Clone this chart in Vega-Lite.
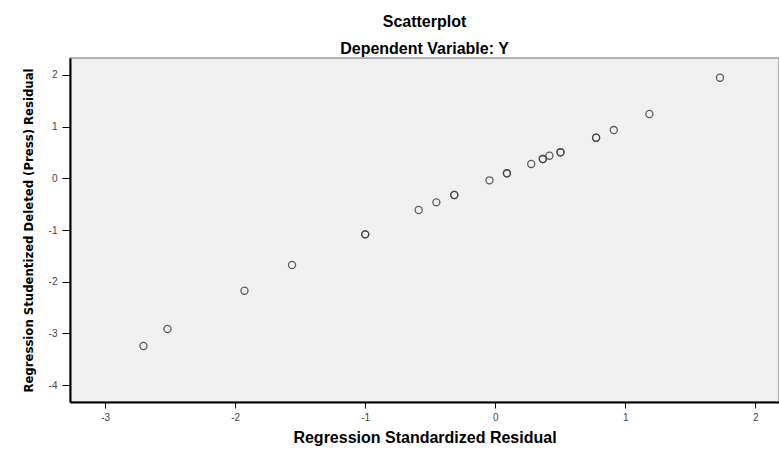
{
  "$schema": "https://vega.github.io/schema/vega-lite/v6.json",
  "width": 709,
  "height": 344,
  "autosize": {"type": "none"},
  "padding": {"left": 70, "top": 58, "right": 0, "bottom": 50},
  "background": "white",
  "title": {
    "text": ["Scatterplot", "Dependent Variable: Y"],
    "font": "Liberation Sans",
    "fontSize": 16,
    "fontWeight": "bold",
    "lineHeight": 27,
    "anchor": "middle",
    "offset": 1,
    "color": "#000"
  },
  "config": {
    "view": {"fill": "#f0f0f0", "stroke": "#999", "strokeWidth": 1.5},
    "axis": {
      "grid": false,
      "domainColor": "#000",
      "domainWidth": 1.5,
      "tickColor": "#000",
      "tickWidth": 1,
      "tickSize": 5,
      "labelFont": "Liberation Sans",
      "labelFontSize": 10,
      "labelColor": "#444",
      "labelExpr": "(datum.value < 0 ? '-' : '') + abs(datum.value)",
      "titleFont": "Liberation Sans",
      "titleFontWeight": "bold",
      "titleColor": "#000"
    }
  },
  "data": {
    "values": [
      {"x": -2.706, "y": -3.244},
      {"x": -2.521, "y": -2.915},
      {"x": -1.929, "y": -2.174},
      {"x": -1.563, "y": -1.677},
      {"x": -1.0, "y": -1.084},
      {"x": -1.0, "y": -1.084},
      {"x": -0.589, "y": -0.613},
      {"x": -0.453, "y": -0.465},
      {"x": -0.315, "y": -0.323},
      {"x": -0.315, "y": -0.323},
      {"x": -0.044, "y": -0.039},
      {"x": 0.09, "y": 0.097},
      {"x": 0.09, "y": 0.097},
      {"x": 0.277, "y": 0.277},
      {"x": 0.366, "y": 0.373},
      {"x": 0.366, "y": 0.373},
      {"x": 0.417, "y": 0.437},
      {"x": 0.502, "y": 0.503},
      {"x": 0.502, "y": 0.503},
      {"x": 0.776, "y": 0.786},
      {"x": 0.776, "y": 0.786},
      {"x": 0.912, "y": 0.934},
      {"x": 1.186, "y": 1.244},
      {"x": 1.729, "y": 1.946}
    ]
  },
  "mark": {"type": "point", "shape": "circle", "filled": false, "size": 50, "stroke": "#444", "strokeWidth": 1.3, "opacity": 0.85},
  "encoding": {
    "x": {
      "field": "x",
      "type": "quantitative",
      "scale": {"domain": [-3.271, 2.183], "nice": false, "zero": false},
      "axis": {"values": [-3, -2, -1, 0, 1, 2], "title": "Regression Standardized Residual", "titleFontSize": 16, "titlePadding": 7, "labelPadding": 4, "tickSize": 6, "domainWidth": 2}
    },
    "y": {
      "field": "y",
      "type": "quantitative",
      "scale": {"domain": [-4.327, 2.327], "nice": false, "zero": false},
      "axis": {"values": [-4, -3, -2, -1, 0, 1, 2], "title": "Regression Studentized Deleted (Press) Residual", "titleFont": "DejaVu Sans Condensed", "titleFontSize": 13, "titlePadding": 13, "labelPadding": 5, "tickSize": 8, "domainWidth": 2}
    }
  }
}
